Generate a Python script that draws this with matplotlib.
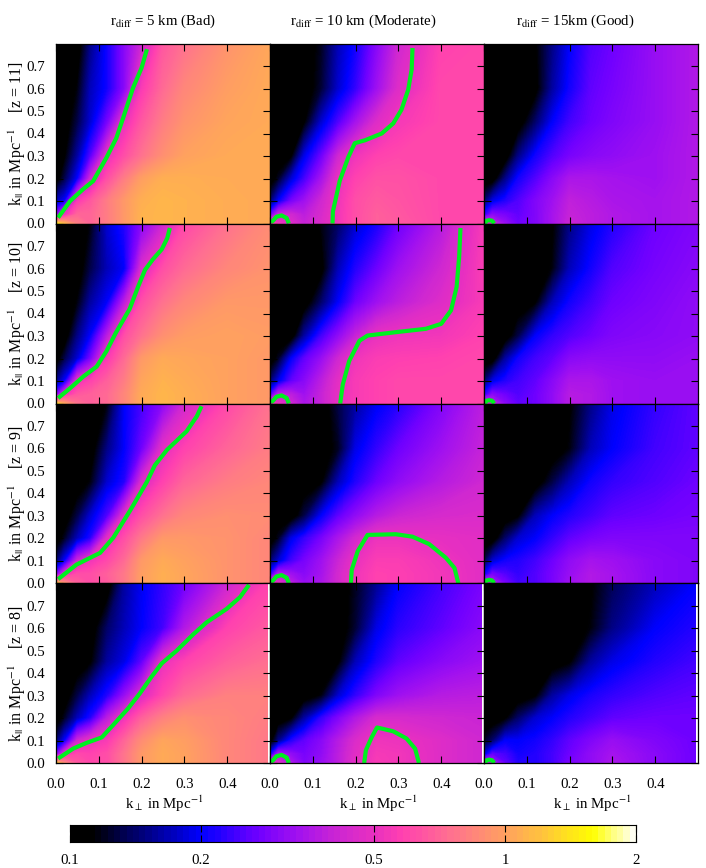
import numpy as np
import matplotlib
matplotlib.use('Agg')
import matplotlib.pyplot as plt
from matplotlib.colors import LinearSegmentedColormap

plt.rcParams['font.family'] = ['Liberation Serif', 'DejaVu Serif']
plt.rcParams['mathtext.fontset'] = 'stix'
plt.rcParams['font.size'] = 10.7

# grid the values were read on
k_perp = [0, .02, .05, .08, .12, .16, .2, .25, .3, .4, .5]
k_par = [0, .04, .1, .2, .3, .45, .6, .8]

# ratio, one row per k_par (bottom to top)
z11_5km = [[1.5, 1.1, .8, .7, .8, .95, 1.1, 1.12, 1.1, 1.07, 1.05],
           [.3, .5, .7, .7, .8, .95, 1.1, 1.12, 1.1, 1.07, 1.05],
           [.17, .2, .55, .65, .8, .95, 1.08, 1.12, 1.1, 1.07, 1.05],
           [.1, .13, .2, .42, .62, .8, .98, 1.08, 1.08, 1.06, 1.05],
           [.1, .11, .16, .25, .5, .62, .75, .9, 1.0, 1.05, 1.05],
           [.1, .1, .13, .18, .28, .5, .65, .8, .92, 1.02, 1.05],
           [.1, .1, .115, .17, .21, .3, .55, .72, .85, .98, 1.05],
           [.1, .1, .1, .15, .21, .3, .42, .65, .75, .92, 1.03]]
z10_5km = [[1.4, 1.0, .75, .68, .72, .85, 1.05, 1.12, 1.08, 1.0, .95],
           [.28, .5, .65, .68, .72, .85, 1.05, 1.12, 1.08, 1.0, .95],
           [.15, .2, .5, .58, .68, .8, 1.02, 1.1, 1.06, 1.0, .95],
           [.1, .13, .18, .28, .55, .72, .95, 1.05, 1.03, 1.0, .95],
           [.1, .1, .15, .2, .38, .62, .75, .9, .97, 1.0, .97],
           [.1, .1, .115, .16, .2, .38, .62, .75, .85, .95, .95],
           [.1, .1, .1, .13, .17, .2, .45, .62, .72, .85, .92],
           [.1, .1, .1, .115, .18, .22, .3, .42, .6, .75, .88]]
z9_5km = [[1.3, .9, .68, .62, .66, .78, .98, 1.08, 1.02, .92, .85],
          [.28, .5, .62, .62, .68, .78, .98, 1.08, 1.02, .92, .85],
          [.14, .2, .42, .52, .6, .72, .95, 1.05, 1.0, .92, .85],
          [.1, .12, .17, .22, .48, .62, .78, .95, .95, .92, .85],
          [.1, .1, .13, .18, .25, .48, .62, .75, .85, .9, .88],
          [.1, .1, .1, .115, .18, .22, .45, .58, .7, .8, .85],
          [.1, .1, .1, .1, .15, .2, .27, .48, .58, .7, .8],
          [.1, .1, .1, .1, .115, .2, .24, .3, .42, .6, .75]]
z8_5km = [[1.3, .85, .65, .6, .62, .76, .95, 1.05, 1.0, .85, .78],
          [.28, .5, .6, .58, .62, .76, .95, 1.05, 1.0, .85, .78],
          [.14, .2, .42, .5, .55, .7, .88, 1.02, .98, .85, .78],
          [.1, .12, .17, .22, .38, .52, .68, .82, .9, .85, .8],
          [.1, .1, .13, .17, .22, .32, .46, .6, .72, .82, .82],
          [.1, .1, .1, .11, .16, .19, .26, .5, .58, .68, .74],
          [.1, .1, .1, .1, .14, .17, .2, .24, .36, .58, .66],
          [.1, .1, .1, .1, .1, .16, .195, .23, .27, .41, .58]]

z11_10km = [[.6, .52, .46, .4, .45, .53, .62, .68, .66, .6, .6],
            [.26, .42, .42, .38, .44, .53, .62, .68, .65, .6, .6],
            [.14, .2, .28, .33, .42, .52, .62, .66, .64, .6, .6],
            [.1, .12, .18, .24, .34, .5, .58, .63, .63, .6, .6],
            [.1, .1, .11, .19, .27, .42, .52, .58, .6, .6, .6],
            [.1, .1, .1, .11, .18, .25, .34, .46, .54, .6, .6],
            [.1, .1, .1, .1, .125, .18, .23, .33, .46, .6, .6],
            [.1, .1, .1, .1, .12, .17, .21, .3, .42, .58, .6]]
z10_10km = [[.55, .5, .42, .35, .4, .49, .55, .58, .6, .6, .6],
            [.24, .4, .38, .33, .4, .49, .55, .58, .6, .6, .6],
            [.14, .19, .26, .3, .38, .48, .55, .58, .6, .6, .6],
            [.1, .12, .2, .26, .32, .42, .52, .56, .57, .58, .6],
            [.1, .1, .1, .16, .24, .31, .4, .5, .52, .53, .58],
            [.1, .1, .1, .1, .14, .2, .27, .33, .38, .46, .55],
            [.1, .1, .1, .1, .105, .17, .22, .27, .33, .42, .56],
            [.1, .1, .1, .1, .115, .14, .18, .215, .27, .37, .55]]
z9_10km = [[.52, .48, .38, .32, .35, .43, .52, .58, .57, .53, .47],
           [.22, .38, .33, .3, .34, .43, .52, .58, .57, .53, .47],
           [.14, .18, .24, .28, .33, .41, .5, .56, .56, .52, .47],
           [.1, .12, .19, .23, .28, .35, .43, .51, .51, .49, .47],
           [.1, .1, .1, .13, .2, .26, .31, .37, .41, .44, .45],
           [.1, .1, .1, .1, .11, .17, .22, .27, .31, .37, .42],
           [.1, .1, .1, .1, .1, .12, .19, .23, .27, .33, .4],
           [.1, .1, .1, .1, .1, .13, .16, .195, .22, .29, .38]]
z8_10km = [[.5, .46, .35, .29, .32, .38, .48, .55, .53, .46, .42],
           [.2, .36, .31, .28, .31, .38, .47, .54, .53, .46, .42],
           [.1, .15, .22, .26, .3, .37, .45, .52, .51, .46, .42],
           [.1, .1, .11, .16, .23, .29, .36, .44, .44, .42, .41],
           [.1, .1, .1, .1, .115, .18, .23, .29, .33, .37, .38],
           [.1, .1, .1, .1, .1, .11, .17, .22, .26, .3, .33],
           [.1, .1, .1, .1, .1, .1, .125, .19, .225, .26, .3],
           [.1, .1, .1, .1, .1, .1, .12, .155, .2, .24, .28]]

z11_15km = [[.5, .42, .32, .27, .29, .34, .41, .38, .36, .34, .36],
            [.22, .3, .28, .26, .29, .34, .4, .38, .36, .34, .36],
            [.14, .19, .22, .25, .29, .33, .39, .37, .35, .34, .36],
            [.1, .1, .15, .21, .25, .3, .35, .35, .34, .33, .36],
            [.1, .1, .1, .15, .21, .25, .28, .3, .31, .33, .36],
            [.1, .1, .1, .1, .14, .2, .24, .27, .29, .32, .36],
            [.1, .1, .1, .1, .105, .16, .21, .26, .28, .32, .36],
            [.1, .1, .1, .1, .11, .15, .2, .25, .27, .32, .36]]
z10_15km = [[.48, .4, .3, .26, .27, .31, .37, .36, .33, .32, .32],
            [.22, .3, .27, .25, .27, .31, .37, .36, .33, .32, .32],
            [.14, .19, .22, .24, .26, .3, .35, .35, .33, .32, .32],
            [.1, .1, .16, .21, .24, .26, .3, .31, .31, .31, .32],
            [.1, .1, .1, .13, .2, .23, .25, .27, .29, .3, .31],
            [.1, .1, .1, .1, .11, .17, .21, .24, .27, .29, .31],
            [.1, .1, .1, .1, .1, .115, .17, .21, .25, .28, .3],
            [.1, .1, .1, .1, .1, .11, .15, .19, .22, .27, .29]]
z9_15km = [[.45, .38, .28, .24, .25, .28, .33, .36, .34, .3, .29],
           [.2, .28, .25, .23, .25, .28, .32, .36, .34, .3, .29],
           [.13, .18, .21, .22, .24, .27, .31, .34, .33, .3, .29],
           [.1, .1, .14, .18, .2, .23, .26, .28, .29, .29, .29],
           [.1, .1, .1, .11, .17, .2, .22, .24, .26, .27, .28],
           [.1, .1, .1, .1, .1, .13, .17, .21, .23, .25, .27],
           [.1, .1, .1, .1, .1, .1, .115, .17, .2, .24, .26],
           [.1, .1, .1, .1, .1, .1, .11, .15, .19, .23, .26]]
z8_15km = [[.42, .36, .26, .22, .22, .24, .28, .31, .35, .3, .27],
           [.18, .26, .24, .21, .22, .24, .27, .31, .34, .3, .27],
           [.12, .14, .2, .2, .21, .23, .26, .29, .32, .29, .27],
           [.1, .1, .11, .14, .18, .2, .22, .24, .26, .27, .27],
           [.1, .1, .1, .1, .11, .16, .19, .215, .23, .25, .26],
           [.1, .1, .1, .1, .1, .1, .11, .16, .19, .22, .24],
           [.1, .1, .1, .1, .1, .1, .1, .115, .15, .2, .22],
           [.1, .1, .1, .1, .1, .1, .1, .11, .135, .17, .2]]

# green lines, (k_perp, k_par)
line_z11_5km = [(.005, .026), (.033, .1), (.063, .152), (.087, .189), (.118, .293), (.141, .38), (.157, .47), (.18, .603), (.2, .692), (.2125, .775)]
line_z10_5km = [(.005, .024), (.033, .068), (.064, .12), (.095, .164), (.118, .233), (.14, .315), (.172, .42), (.192, .52), (.208, .594), (.226, .64), (.247, .685), (.26, .735), (.266, .78)]
line_z9_5km = [(.005, .018), (.048, .083), (.103, .135), (.134, .203), (.173, .323), (.212, .45), (.231, .525), (.259, .593), (.305, .676), (.329, .743), (.34, .788)]
line_z8_5km = [(.005, .02), (.04, .064), (.072, .09), (.107, .114), (.134, .17), (.169, .244), (.196, .31), (.224, .386), (.247, .443), (.282, .5), (.321, .573), (.352, .626), (.399, .686), (.43, .738), (.451, .793)]
line_z11_10km = [(.146, 0), (.147, .054), (.163, .19), (.183, .295), (.198, .357), (.222, .37), (.261, .4), (.288, .445), (.307, .505), (.323, .595), (.331, .685), (.333, .78)]
line_z10_10km = [(.164, 0), (.17, .084), (.185, .189), (.209, .279), (.228, .302), (.294, .317), (.364, .332), (.4, .354), (.423, .414), (.436, .518), (.442, .653), (.445, .78)]
line_z9_10km = [(.189, 0), (.191, .06), (.205, .143), (.228, .215), (.294, .218), (.333, .207), (.372, .174), (.411, .113), (.431, .068), (.44, 0)]
line_z8_10km = [(.22, 0), (.224, .057), (.238, .116), (.25, .158), (.288, .141), (.319, .109), (.339, .064), (.348, 0)]
arc_10km = [(.002, .006), (.007, .012), (.015, .03), (.027, .036), (.039, .024), (.044, 0)]
arc_15km = [(.002, 0), (.006, .012), (.012, .015), (.019, .012), (.024, 0)]

rows = ['11', '10', '9', '8']
titles = [r'r$_{\mathrm{diff}}$ = 5 km (Bad)', r'r$_{\mathrm{diff}}$ = 10 km (Moderate)', r'r$_{\mathrm{diff}}$ = 15km (Good)']
title_x = [163, 363, 575]
xlabel_x = [164, 378, 592]
cbar_ticks = [.1, .2, .5, 1, 2]
cbar_labels = ['0.1', '0.2', '0.5', '1', '2']

grids = [[z11_5km, z11_10km, z11_15km],
         [z10_5km, z10_10km, z10_15km],
         [z9_5km, z9_10km, z9_15km],
         [z8_5km, z8_10km, z8_15km]]
lines = [[[line_z11_5km], [line_z11_10km, arc_10km], [arc_15km]],
         [[line_z10_5km], [line_z10_10km, arc_10km], [arc_15km]],
         [[line_z9_5km], [line_z9_10km, arc_10km], [arc_15km]],
         [[line_z8_5km], [line_z8_10km, arc_10km], [arc_15km]]]

# colours along the bar, value -> colour
stop_vals = [.1, .112, .14, .2, .27, .33, .42, .5, .58, .75, 1, 1.2, 1.6, 2]
stop_cols = ['#000000', '#000000', '#000068', '#0000ff', '#7000ff', '#a010f0', '#d028d0', '#e830c0',
             '#ff40b0', '#ff7090', '#ffa060', '#ffc040', '#ffff00', '#ffffff']
vmin, vmax = np.log10(.1), np.log10(2)
stop_pos = [(np.log10(v) - vmin) / (vmax - vmin) for v in stop_vals]
cmap = LinearSegmentedColormap.from_list('ratio', list(zip(stop_pos, stop_cols)), N=256)

W, H = 706, 868
fig = plt.figure(figsize=(W / 100, H / 100), dpi=100)


def px_axes(left, top, right, bottom):
    return fig.add_axes([left / W, 1 - bottom / H, (right - left) / W, (bottom - top) / H])


col_x = [56, 270, 484, 698]
row_y = [43.5, 223.5, 403.5, 583.2, 763]
levels = np.linspace(vmin, vmax, 256)

for r in range(4):
    for c in range(3):
        ax = px_axes(col_x[c], row_y[r], col_x[c + 1], row_y[r + 1])
        xs = list(k_perp)
        ys = list(k_par)
        # the image stops just short of the frame in places
        if r < 2:
            ys[-1] = .793
        if r == 3:
            xs[-1] = .495
        ax.contourf(xs, ys, np.log10(np.array(grids[r][c])), levels=levels, cmap=cmap,
                    vmin=vmin, vmax=vmax, extend='both')
        for pts in lines[r][c]:
            pts = np.array(pts)
            ax.plot(pts[:, 0], pts[:, 1], color='#00f020', lw=3, solid_capstyle='butt', solid_joinstyle='round')
        ax.set_xlim(0, .5)
        ax.set_ylim(0, .8)
        ax.set_xticks([0, .1, .2, .3, .4])
        ax.set_yticks([0, .1, .2, .3, .4, .5, .6, .7])
        ax.tick_params(direction='in', length=5, width=.8, top=True, right=True, left=True, bottom=True,
                       labelbottom=False, labelleft=False)
        if r == 3:
            ax.tick_params(axis='x', labelbottom=True, pad=10.5)
            ax.set_xticklabels(['0.0', '0.1', '0.2', '0.3', '0.4'])
        if c == 0:
            ax.tick_params(axis='y', labelleft=True, pad=8)
            ax.set_yticklabels(['0.0', '0.1', '0.2', '0.3', '0.4', '0.5', '0.6', '0.7'])
            fig.text(17 / W, 1 - (row_y[r] + row_y[r + 1]) / 2 / H,
                     r'k$_{||}$ in Mpc$^{-1}$    [z = ' + rows[r] + ']',
                     rotation=90, ha='center', va='center', fontsize=11.5)
        for s in ax.spines.values():
            s.set_linewidth(.9)

for c in range(3):
    fig.text(title_x[c] / W, 1 - 21 / H, titles[c], ha='center', va='center')
    fig.text(xlabel_x[c] / W, 1 - 804 / H, r'k$_{\perp}$ in Mpc$^{-1}$', ha='center', va='center')

# colour bar, stepped like the original
cax = px_axes(70, 824.5, 636, 842)
bar_edges = np.logspace(vmin, vmax, 91)
bar_mid = np.sqrt(bar_edges[:-1] * bar_edges[1:])
cax.pcolormesh(bar_edges, [0, 1], np.log10(bar_mid)[None, :], cmap=cmap, vmin=vmin, vmax=vmax)
cax.set_xscale('log')
cax.set_xlim(.1, 2)
cax.set_ylim(0, 1)
cax.set_yticks([])
cax.set_xticks(cbar_ticks)
cax.set_xticklabels(cbar_labels)
cax.minorticks_off()
cax.tick_params(direction='in', length=5, width=.8, top=True, bottom=True, pad=9)

fig.savefig('out.png', dpi=100)
